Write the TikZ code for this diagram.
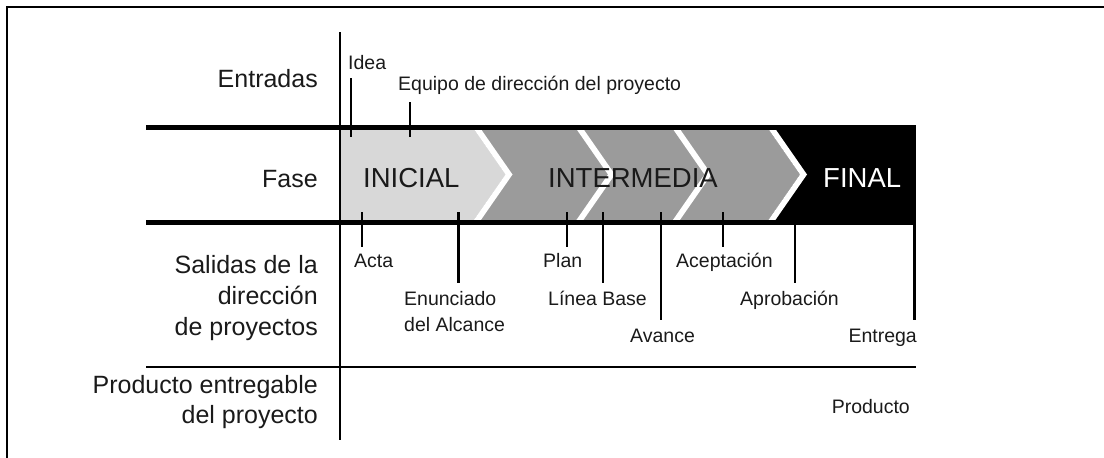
\documentclass[tikz,border=0pt]{standalone}
\usepackage{fontspec}
\setmainfont{Liberation Sans}
\definecolor{lightph}{HTML}{D8D8D8}
\definecolor{midph}{HTML}{9B9B9B}
\definecolor{ink}{HTML}{1A1A1A}
\begin{document}
\begin{tikzpicture}[x=1pt,y=-1pt,
  frameline/.style={line width=2.6pt,black},
  heavy/.style={line width=5pt,black},
  thinrule/.style={line width=2.3pt,black},
  tickline/.style={line width=2.3pt,black},
  lbl/.style={font=\fontsize{19.5}{25.7}\selectfont,inner sep=0pt,text=ink,align=left},
  side/.style={font=\fontsize{25}{31}\selectfont,inner sep=0pt,text=ink,align=right},
  phase/.style={font=\fontsize{27.5}{30}\selectfont,inner sep=0pt,text=ink},
  stripe/.style={fill=white,draw=none}
]
\useasboundingbox (0,0) rectangle (1104,458);
% frame
\draw[frameline] (1104,7) -- (7,7) -- (7,458);
% phase band
\fill[black] (340,127) rectangle (916,222);
\fill[midph] (340,127) -- (767,127) -- (800,174.5) -- (767,222) -- (340,222) -- cycle;
\fill[lightph] (340,127) -- (472.5,127) -- (505.5,174.5) -- (472.5,222) -- (340,222) -- cycle;
\foreach \t in {472.5,575,671.5,767}{
  \fill[stripe] (\t,127) -- (\t+33,174.5) -- (\t,222) -- (\t+7,222) -- (\t+40,174.5) -- (\t+7,127) -- cycle;
}
% rules
\draw[heavy] (146,127) -- (916,127);
\draw[heavy] (146,222) -- (916,222);
\draw[thinrule] (146,367) -- (916,367);
\draw[thinrule] (340,32) -- (340,440);
% row labels
\node[side,anchor=base east] (entradas) at (318,87) {Entradas};
\node[side,anchor=base east] (fase) at (318,187) {Fase};
\node[side,anchor=base east] (salidas) at (318,335) {Salidas de la\\dirección\\de proyectos};
\node[side,anchor=base east,font=\fontsize{25}{30}\selectfont] (producto) at (318,423) {Producto entregable\\del proyecto};
% phases
\node[phase,anchor=base west] (inicial) at (363,187) {INICIAL};
\node[phase,anchor=base west] (intermedia) at (548,187) {INTERMEDIA};
\node[phase,anchor=base west,text=white] (final) at (823,187) {FINAL};
% inputs
\node[lbl,anchor=base west] (idea) at (348,69) {Idea};
\node[lbl,anchor=base west] (equipo) at (398,90) {Equipo de dirección del proyecto};
\coordinate (ideatop) at (351,78);
\coordinate (equipotop) at (410,102);
\draw[tickline] (ideatop) -- (351,137);
\draw[tickline] (equipotop) -- (410,137);
% outputs
\node[lbl,anchor=base west] (acta) at (354,267) {Acta};
\node[lbl,anchor=base west] (enunciado) at (404,331) {Enunciado\\del Alcance};
\node[lbl,anchor=base west] (plan) at (543,267) {Plan};
\node[lbl,anchor=base west] (lineabase) at (548,305) {Línea Base};
\node[lbl,anchor=base west] (avance) at (630,342) {Avance};
\node[lbl,anchor=base west] (aceptacion) at (676,267) {Aceptación};
\node[lbl,anchor=base west] (aprobacion) at (740,305) {Aprobación};
\node[lbl,anchor=base east] (entrega) at (917,342) {Entrega};
\node[lbl,anchor=base east] (productolbl) at (910,413) {Producto};
\draw[tickline] (362,212) -- (362,247);
\draw[tickline] (458.5,212) -- (458.5,283);
\draw[tickline] (567,212) -- (567,247);
\draw[tickline] (603,212) -- (603,283);
\draw[tickline] (661,212) -- (661,319.5);
\draw[tickline] (723,212) -- (723,247);
\draw[tickline] (795,222) -- (795,283);
\draw[tickline] (914.5,222) -- (914.5,319.5);
\end{tikzpicture}
\end{document}
